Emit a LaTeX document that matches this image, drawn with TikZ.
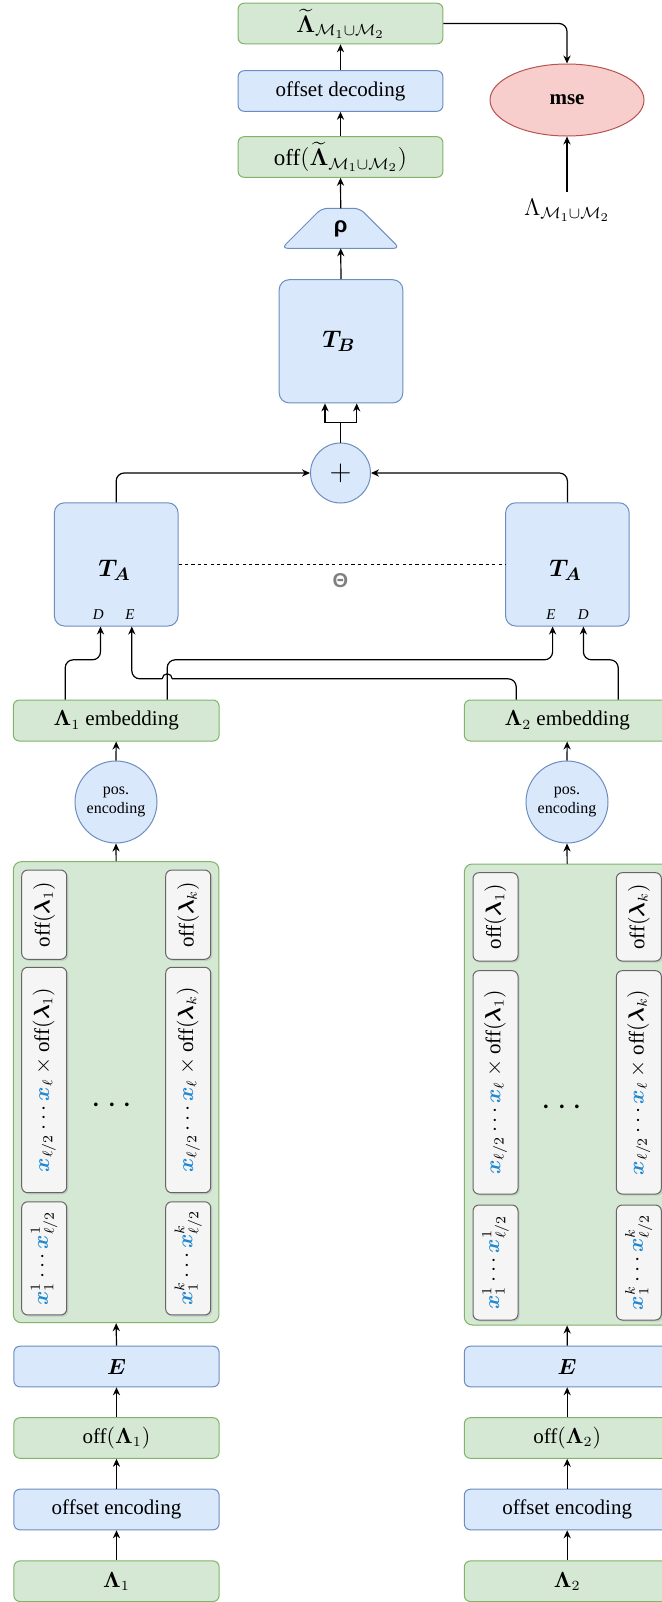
\documentclass[tikz,border=0pt]{standalone}
\usepackage{amsmath,bm}
\usepackage{graphicx}
\usepackage{fontspec}
\setmainfont{Liberation Serif}
\newfontfamily\sansf{Liberation Sans}
\usetikzlibrary{arrows.meta,calc,shadows,shapes.geometric}
\definecolor{gfill}{HTML}{D5E8D4}\definecolor{gdraw}{HTML}{82B366}
\definecolor{bfill}{HTML}{DAE8FC}\definecolor{bdraw}{HTML}{6C8EBF}
\definecolor{rfill}{HTML}{F8CECC}\definecolor{rdraw}{HTML}{B85450}
\definecolor{grfill}{HTML}{F5F5F5}\definecolor{grdraw}{HTML}{666666}
\definecolor{xblue}{HTML}{1E88D0}
\definecolor{thetagray}{HTML}{808080}
\newcommand{\xbl}{\textcolor{xblue}{\bm{x}}}
\begin{document}
\begin{tikzpicture}[x=0.5pt,y=-0.5pt,
  base/.style={line width=0.5pt, inner sep=0pt, font=\fontsize{10.5}{12.5}\selectfont},
  gbox/.style={base, rectangle, rounded corners=3pt, draw=gdraw, fill=gfill, minimum width=102.4pt, minimum height=20.3pt},
  bbox/.style={base, rectangle, rounded corners=3pt, draw=bdraw, fill=bfill, minimum width=102.4pt, minimum height=20.3pt},
  tbox/.style={base, rectangle, rounded corners=5pt, draw=bdraw, fill=bfill, minimum width=61.8pt, minimum height=61.6pt},
  circ/.style={base, circle, draw=bdraw, fill=bfill},
  cont/.style={base, rectangle, rounded corners=4pt, draw=gdraw, fill=gfill, minimum width=102.8pt, minimum height=230.5pt},
  inbox/.style={base, rectangle, rounded corners=3pt, draw=grdraw, fill=grfill, minimum width=22.5pt,
     drop shadow={shadow xshift=0.8pt, shadow yshift=-0.8pt, opacity=0.25}},
  txt/.style={base},
  biglabel/.style={inner sep=0pt, font=\fontsize{12.5}{14}\selectfont},
  port/.style={inner sep=0pt, font=\itshape\fontsize{7.5}{8}\selectfont},
  line/.style={line width=0.6pt, black},
  arr/.style={line, -{Stealth[length=4pt,width=3.6pt,inset=1.3pt]}},
]
\useasboundingbox (0,0) rectangle (662,1602);
\fill[white] (0,0) rectangle (662,1602);
\clip (0,0) rectangle (662,1602);

% ---------- top part ----------
\node[gbox, font=\fontsize{11.5}{13}\selectfont] (lamt) at (340.5,23.5) {$\widetilde{\bm\Lambda}_{\mathcal M_1\cup\mathcal M_2}$};
\node[bbox] (dec) at (340.5,91) {offset decoding};
\node[gbox, font=\fontsize{11.5}{13}\selectfont] (offt) at (340.5,157) {off$(\widetilde{\bm\Lambda}_{\mathcal M_1\cup\mathcal M_2})$};
\node[base, ellipse, draw=rdraw, fill=rfill, minimum width=77pt, minimum height=36pt, font=\bfseries\fontsize{10.5}{12.5}\selectfont] (mse) at (567,100) {mse};
\node[txt, inner sep=3pt, font=\fontsize{11.5}{13}\selectfont] (lab) at (567,210) {$\Lambda_{\mathcal M_1\cup\mathcal M_2}$};

\draw[line width=0.5pt, draw=bdraw, fill=bfill, rounded corners=3pt]
  (281.7,248.3) -- (321.7,208.3) -- (359.7,208.3) -- (399.7,248.3) -- cycle;
\node[inner sep=0pt, font=\sansf\bfseries\fontsize{11}{12}\selectfont] (rho) at (340.7,229) {ρ};
\coordinate (rhotop) at (340.7,208.3);
\coordinate (rhobot) at (340.7,248.3);

\node[tbox] (TB) at (341,341.3) {};
\node[biglabel] (TBl) at (339,341.5) {$\bm{T_B}$};

\node[circ, minimum size=30pt, font=\fontsize{14}{16}\selectfont] (plus) at (340.5,473) {$+$};

% ---------- T_A ----------
\node[tbox] (TAL) at (116.2,564.4) {};
\node[tbox] (TAR) at (567.4,564.4) {};
\node[biglabel] (TALl) at (114.5,570) {$\bm{T_A}$};
\node[biglabel] (TARl) at (565.5,570) {$\bm{T_A}$};
\node[port] (dL) at (98.2,615) {D};
\node[port] (eL) at (130,615) {E};
\node[port] (eR) at (551,615) {E};
\node[port] (dR) at (583.4,615) {D};
\draw[line width=0.5pt, dash pattern=on 1.6pt off 1.6pt] (TAL.east) -- (TAR.west);
\node[inner sep=0pt, text=thetagray, font=\sansf\bfseries\fontsize{10}{11}\selectfont] (theta) at (340.4,580.7) {Θ};

% ---------- embeddings ----------
\node[gbox, minimum width=102.85pt, minimum height=20.5pt] (embL) at (116.2,720.5) {$\bm\Lambda_1$ embedding};
\node[gbox, minimum width=102.85pt, minimum height=20.5pt] (embR) at (567.2,720.5) {$\bm\Lambda_2$ embedding};
\node[circ, minimum size=41pt, align=center, font=\fontsize{8}{9.5}\selectfont] (posL) at (116,802) {pos.\\encoding};
\node[circ, minimum size=41pt, align=center, font=\fontsize{8}{9.5}\selectfont] (posR) at (567,802) {pos.\\encoding};

% ---------- containers ----------
\node[cont] (contL) at (116.15,1092.2) {};
\node[cont] (contR) at (567.15,1094.5) {};

\node[inbox, minimum height=44.6pt] (l1a) at (44.2,914.65) {\rotatebox{90}{off$(\bm\lambda_1)$}};
\node[inbox, minimum height=112.7pt] (l1b) at (44.2,1080) {\rotatebox{90}{$\xbl_{\ell/2}\cdots\xbl_{\ell}\times\text{off}(\bm\lambda_1)$}};
\node[inbox, minimum height=56.6pt] (l1c) at (44.2,1258.35) {\rotatebox{90}{$\xbl_1^1\cdots\xbl^1_{\ell/2}$}};
\node[inbox, minimum height=44.6pt] (lka) at (188.2,914.65) {\rotatebox{90}{off$(\bm\lambda_k)$}};
\node[inbox, minimum height=112.7pt] (lkb) at (188.2,1080) {\rotatebox{90}{$\xbl_{\ell/2}\cdots\xbl_{\ell}\times\text{off}(\bm\lambda_k)$}};
\node[inbox, minimum height=56.6pt] (lkc) at (188.2,1258.35) {\rotatebox{90}{$\xbl_1^k\cdots\xbl^k_{\ell/2}$}};
\node[inner sep=0pt, font=\fontsize{17}{18}\selectfont] (dotsL) at (115,1106) {$\cdots$};

\node[inbox, minimum height=44.2pt] (r1a) at (495.5,916.85) {\rotatebox{90}{off$(\bm\lambda_1)$}};
\node[inbox, minimum height=111.7pt] (r1b) at (495.5,1082.35) {\rotatebox{90}{$\xbl_{\ell/2}\cdots\xbl_{\ell}\times\text{off}(\bm\lambda_1)$}};
\node[inbox, minimum height=57.5pt] (r1c) at (495.5,1262.5) {\rotatebox{90}{$\xbl_1^1\cdots\xbl^1_{\ell/2}$}};
\node[inbox, minimum height=44.2pt] (rka) at (638.85,916.85) {\rotatebox{90}{off$(\bm\lambda_k)$}};
\node[inbox, minimum height=111.7pt] (rkb) at (638.85,1082.35) {\rotatebox{90}{$\xbl_{\ell/2}\cdots\xbl_{\ell}\times\text{off}(\bm\lambda_k)$}};
\node[inbox, minimum height=57.5pt] (rkc) at (638.85,1262.5) {\rotatebox{90}{$\xbl_1^k\cdots\xbl^k_{\ell/2}$}};
\node[inner sep=0pt, font=\fontsize{17}{18}\selectfont] (dotsR) at (565,1108) {$\cdots$};

% ---------- bottom ----------
\node[bbox, minimum width=102.6pt] (EL) at (116.5,1366.5) {$\bm E$};
\node[gbox, minimum width=102.6pt] (offL) at (116.5,1438) {off$(\bm\Lambda_1)$};
\node[bbox, minimum width=102.6pt] (encL) at (116.5,1509.5) {offset encoding};
\node[gbox, minimum width=102.6pt] (lamL) at (116.5,1581.2) {$\bm\Lambda_1$};
\node[bbox, minimum width=102.85pt] (ER) at (567.2,1366.5) {$\bm E$};
\node[gbox, minimum width=102.85pt] (offR) at (567.2,1438) {off$(\bm\Lambda_2)$};
\node[bbox, minimum width=102.85pt] (encR) at (567.2,1509.5) {offset encoding};
\node[gbox, minimum width=102.85pt] (lamR) at (567.2,1581.2) {$\bm\Lambda_2$};

% ---------- connectors ----------
\foreach \c in {L,R}{
  \draw[arr] (lam\c.north) -- (enc\c.south);
  \draw[arr] (enc\c.north) -- (off\c.south);
  \draw[arr] (off\c.north) -- (E\c.south);
  \draw[arr] (E\c.north) -- (cont\c.south);
  \draw[arr] (cont\c.north) -- (pos\c.south);
  \draw[arr] (pos\c.north) -- (emb\c.south);
}
% embeddings -> T_A ports
\draw[arr, rounded corners=4pt] ($(embL.north)+(-51,0)$) |- ($(TAL.south)+(-15.7,33.3)$) -- ($(TAL.south)+(-15.7,0)$);
\draw[arr, rounded corners=4pt] ($(embL.north)+(51,0)$) |- ($(TAR.south)+(-14.8,33.3)$) -- ($(TAR.south)+(-14.8,0)$);
\draw[arr, rounded corners=4pt] ($(embR.north)+(51,0)$) |- ($(TAR.south)+(16,33.3)$) -- ($(TAR.south)+(16,0)$);
\coordinate (hopR) at ($(embL.north)+(56,-20.7)$);
\coordinate (hopL) at ($(embL.north)+(46,-20.7)$);
\draw[line, rounded corners=4pt] ($(embR.north)+(-51,0)$) |- (hopR);
\draw[line] (hopR) arc[start angle=0, end angle=180, radius=2.5pt];
\draw[arr, rounded corners=4pt] (hopL) -| ($(TAL.south)+(15.6,0)$);

% T_A -> plus
\draw[arr, rounded corners=4pt] (TAL.north) |- (plus.west);
\draw[arr, rounded corners=4pt] (TAR.north) |- (plus.east);
% plus -> T_B
\coordinate (split) at ($(plus.north)+(0,-20)$);
\draw[line] (plus.north) -- (split);
\draw[arr] (split) -| ($(TB.south)+(-16,0)$);
\draw[arr] (split) -| ($(TB.south)+(15.7,0)$);
% T_B -> rho -> top chain
\draw[arr] (TB.north) -- (rhobot);
\draw[arr] (rhotop) -- (offt.south);
\draw[arr] (offt.north) -- (dec.south);
\draw[arr] (dec.north) -- (lamt.south);
% to mse
\draw[arr, rounded corners=4pt] (lamt.east) -| (mse.north);
\draw[arr] (lab.north) -- (mse.south);
\end{tikzpicture}
\end{document}
